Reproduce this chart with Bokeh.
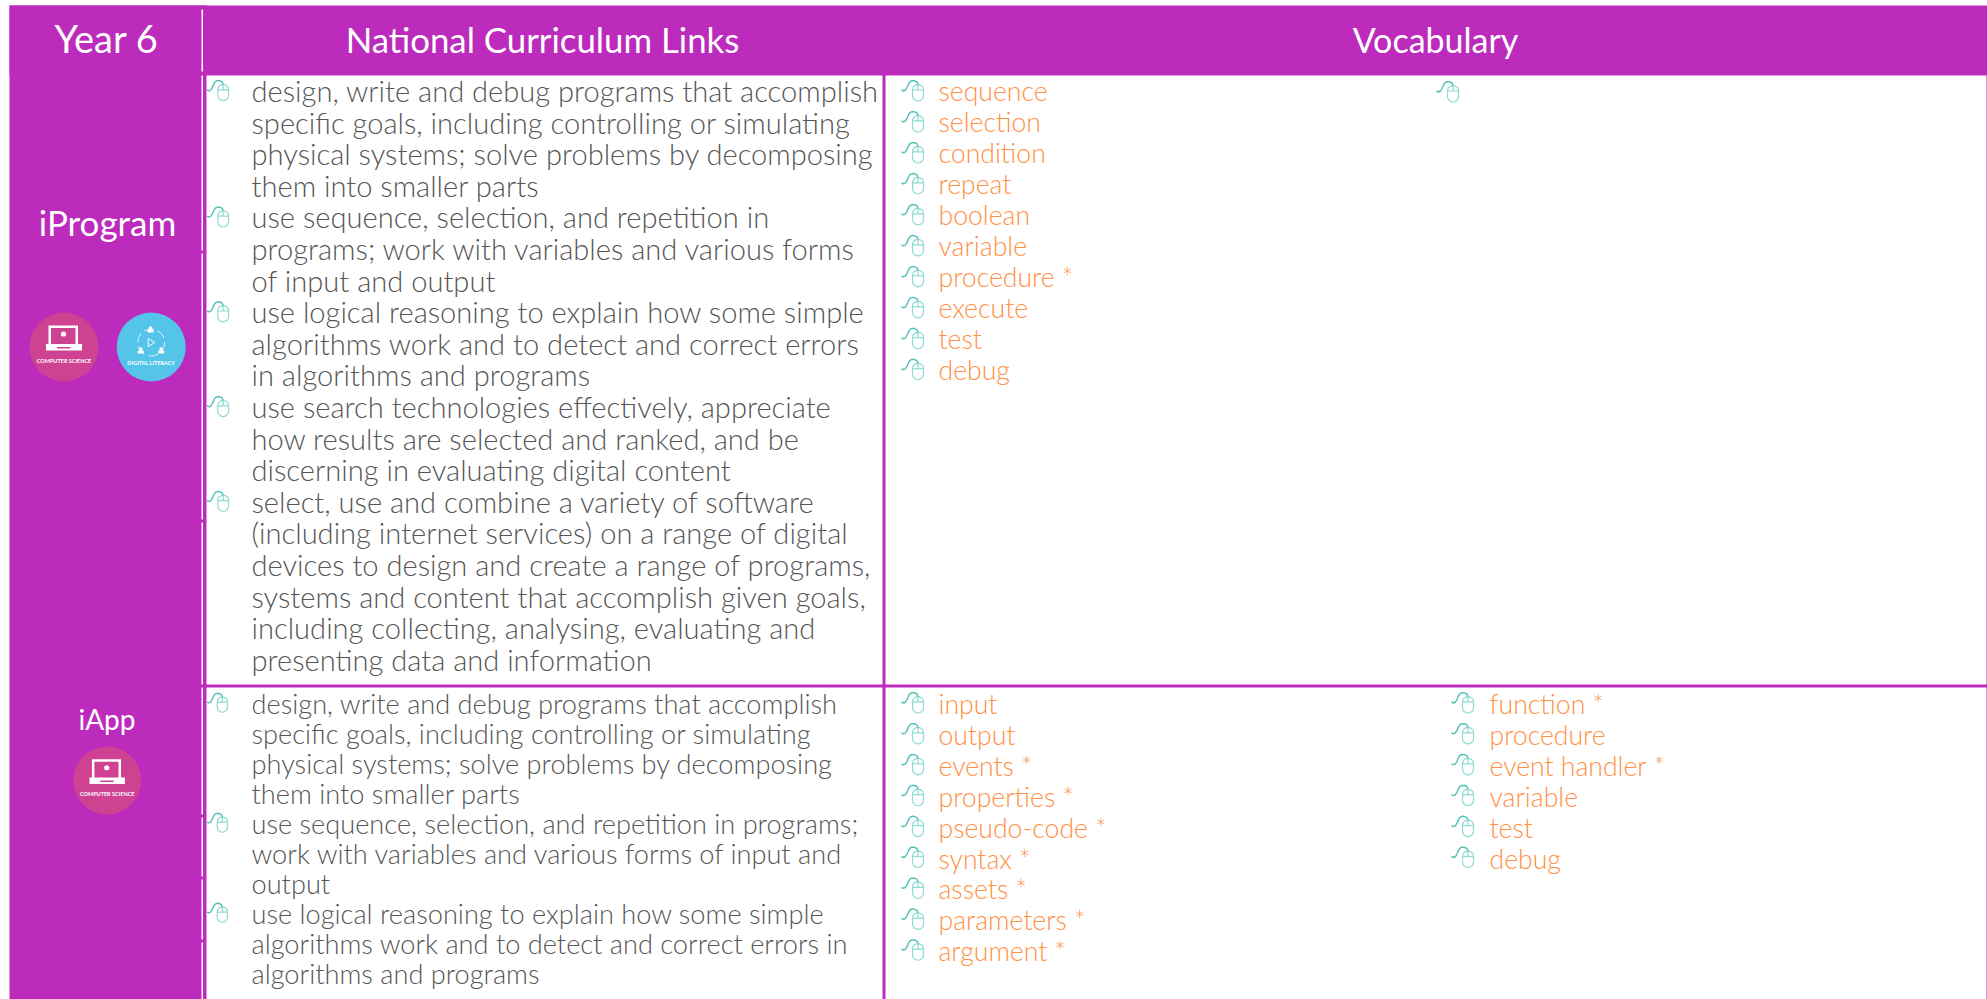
from bokeh.plotting import figure
from bokeh.models import ColumnDataSource, Range1d
from bokeh.core.properties import value
from bokeh.embed import file_html
from bokeh.resources import INLINE
import numpy as np

PURPLE = "#BD2BBD"; GREY = "#565656"; ORANGE = "#FF9044"
TEAL_D = "#4FC0B8"; TEAL_L = "#8EDAD4"; PINK = "#CE4291"; BLUE = "#55C4E9"

W, H = 1987, 999
HEADERS = ["Year 6", "National Curriculum Links", "Vocabulary"]
TOPICS = ["iProgram", "iApp"]
BADGE_CS = "COMPUTER SCIENCE"
BADGE_DL = "DIGITAL LITERACY"

LINKS_1 = [
    "design, write and debug programs that accomplish",
    "specific goals, including controlling or simulating",
    "physical systems; solve problems by decomposing",
    "them into smaller parts",
    "use sequence, selection, and repetition in",
    "programs; work with variables and various forms",
    "of input and output",
    "use logical reasoning to explain how some simple",
    "algorithms work and to detect and correct errors",
    "in algorithms and programs",
    "use search technologies effectively, appreciate",
    "how results are selected and ranked, and be",
    "discerning in evaluating digital content",
    "select, use and combine a variety of software",
    "(including internet services) on a range of digital",
    "devices to design and create a range of programs,",
    "systems and content that accomplish given goals,",
    "including collecting, analysing, evaluating and",
    "presenting data and information",
]
BULLETS_1 = [0, 4, 7, 10, 13]
LINKS_2 = [
    "design, write and debug programs that accomplish",
    "specific goals, including controlling or simulating",
    "physical systems; solve problems by decomposing",
    "them into smaller parts",
    "use sequence, selection, and repetition in programs;",
    "work with variables and various forms of input and",
    "output",
    "use logical reasoning to explain how some simple",
    "algorithms work and to detect and correct errors in",
    "algorithms and programs",
]
BULLETS_2 = [0, 4, 7]
VOCAB_1 = ["sequence", "selection", "condition", "repeat", "boolean", "variable",
           "procedure *", "execute", "test", "debug"]
VOCAB_2A = ["input", "output", "events *", "properties *", "pseudo-code *", "syntax *",
            "assets *", "parameters *", "argument *"]
VOCAB_2B = ["function *", "procedure", "event handler *", "variable", "test", "debug"]

p = figure(width=W, height=H, output_backend="svg", toolbar_location=None,
           x_range=Range1d(0, W), y_range=Range1d(H, 0), min_border=0,
           outline_line_color=None, background_fill_color="white", border_fill_color="white")
p.axis.visible = False
p.grid.visible = False
p.styles = {"position": "absolute", "left": "0px", "top": "0px"}


def rects(color, boxes):
    b = np.array(boxes, dtype=float)
    p.quad(left=b[:, 0], right=b[:, 1], top=b[:, 2], bottom=b[:, 3],
           fill_color=color, line_color=None)


def texts(xs, ys, labels, size, color, font="Lato Light", align="left", style="normal"):
    src = ColumnDataSource(dict(x=list(xs), y=[v - 0.33 * size for v in ys], t=list(labels)))
    p.text("x", "y", "t", source=src, text_font=value(font), text_font_size=f"{size}px",
           text_color=color, text_align=align, text_baseline="alphabetic",
           text_font_style=style)


# panels
rects(PURPLE, [(9, W, 5, 75), (9, 206, 5, H), (1986, W, 70, H),
               (882, 885, 70, H), (200, W, 684, 687)])
seg = [9, 71, 75, 250, 253, 519, 522, 684, 687, 814, 817, 876, 879, 939, 942, H]
rects("white", [(201, 202.5, seg[i], seg[i + 1]) for i in range(0, len(seg), 2)])


def mouse(x0, y0, k=1.0):
    """icon whose top-left corner is x0,y0"""
    t = np.linspace(0, np.pi, 9)
    bx = [11, 11] + list(16.5 - 5.5 * np.cos(t)) + [22, 22] + list(16.5 + 5.5 * np.cos(t)) + [11]
    by = [9, 15] + list(15 + 5.5 * np.sin(t)) + [15, 9] + list(9 - 5.5 * np.sin(t) * .9) + [9]
    xs = [np.array(bx), np.array([11, 22]), np.array([16.5, 16.5])]
    ys = [np.array(by), np.array([9.5, 9.5]), np.array([4, 9.5])]
    p.multi_line([x0 + k * a for a in xs], [y0 + k * a for a in ys], line_color=TEAL_L, line_width=1.2)
    cx = np.array([0, 2, 4, 5.5, 7, 8.5, 10.5, 13, 15.5, 16.5])
    cy = np.array([9.5, 10.5, 9.5, 7, 3.5, 1.2, 0.2, 0.3, 1.5, 4])
    p.line(x0 + k * cx, y0 + k * cy, line_color=TEAL_D, line_width=1.4)


# body text
B1, P1, B2, P2 = 99.7, 31.6, 711.5, 30.0
y1 = [B1 + P1 * i for i in range(len(LINKS_1))]
y2 = [B2 + P2 * i for i in range(len(LINKS_2))]
texts([251] * len(y1), y1, LINKS_1, 29.1, GREY)
texts([251] * len(y2), y2, LINKS_2, 27.2, GREY)
for i in BULLETS_1:
    mouse(206.5, y1[i] - 19.7, 0.98)
for i in BULLETS_2:
    mouse(206.5, y2[i] - 18.8, 0.93)

# vocabulary
V1, PV = 99.7, 30.97
V2, PW = 712.3, 30.9
vy1 = [V1 + PV * i for i in range(len(VOCAB_1))]
vy2 = [V2 + PW * i for i in range(len(VOCAB_2A))]
vy3 = [V2 + PW * i for i in range(len(VOCAB_2B))]
texts([938] * len(vy1), vy1, VOCAB_1, 26.6, ORANGE)
texts([938] * len(vy2), vy2, VOCAB_2A, 26.6, ORANGE)
texts([1489] * len(vy3), vy3, VOCAB_2B, 26.6, ORANGE)
for y in vy1:
    mouse(901, y - 19.7)
mouse(1436, 81)
for y in vy2:
    mouse(901, y - 20.3)
for y in vy3:
    mouse(1451, y - 20.3)

# headers
texts([106], [50], [HEADERS[0]], 38, "white", font="Lato", align="center")
texts([542], [50], [HEADERS[1]], 34.8, "white", font="Lato", align="center")
texts([1435], [50], [HEADERS[2]], 34, "white", font="Lato", align="center")
texts([107], [233], [TOPICS[0]], 35, "white", font="Lato", align="center")
texts([106.5], [728], [TOPICS[1]], 28, "white", font="Lato", align="center")


def laptop(cx, cy, k=1.0):
    rects("white", [(cx + k * -15.5, cx + k * 14, cy + k * -21.5, cy + k * 0),
                    (cx + k * -18, cx + k * 18, cy + k * -3, cy + k * 3.5)])
    rects(PINK, [(cx + k * -13, cx + k * 11.5, cy + k * -19, cy + k * -3),
                 (cx + k * -7, cx + k * 6.5, cy + k * 0, cy + k * 1.5)])
    p.circle([cx - 0.5], [cy + k * -13], radius=2.6 * k, fill_color="white", line_color=None)


def badge_cs(cx, cy, r):
    p.circle([cx], [cy], radius=r, fill_color=PINK, line_color=None)
    laptop(cx, cy, r / 34.5)
    texts([cx], [cy + 15.5 * r / 34.5], [BADGE_CS], 5.5, "white", font="Lato", align="center", style="bold")


def badge_dl(cx, cy, r):
    p.circle([cx], [cy], radius=r, fill_color=BLUE, line_color=None)
    p.circle([cx], [cy - 4.5], radius=13.5, fill_color=None, line_color="white", line_width=0.8, line_dash="10 4")
    p.patch([cx - 3, cx + 3.5, cx - 3, cx - 3], [cy - 8.5, cy - 4.5, cy - 0.5, cy - 8.5],
            fill_color=None, line_color="white", line_width=0.9)
    for dx, dy in [(-0.7, -17.5), (-10.5, 3.5), (10, 3.5)]:
        p.circle([cx + dx], [cy + dy - 1.5], radius=1.8, fill_color="white", line_color=None)
        rects("white", [(cx + dx - 3, cx + dx + 3, cy + dy, cy + dy + 3)])
    texts([cx], [cy + 17.5], [BADGE_DL], 5.5, "white", font="Lato", align="center", style="bold")


badge_cs(63.5, 346.5, 34.5)
badge_dl(150.7, 346.5, 34.5)
badge_cs(106.7, 780, 34)

open("out.html", "w").write(file_html(p, INLINE))
